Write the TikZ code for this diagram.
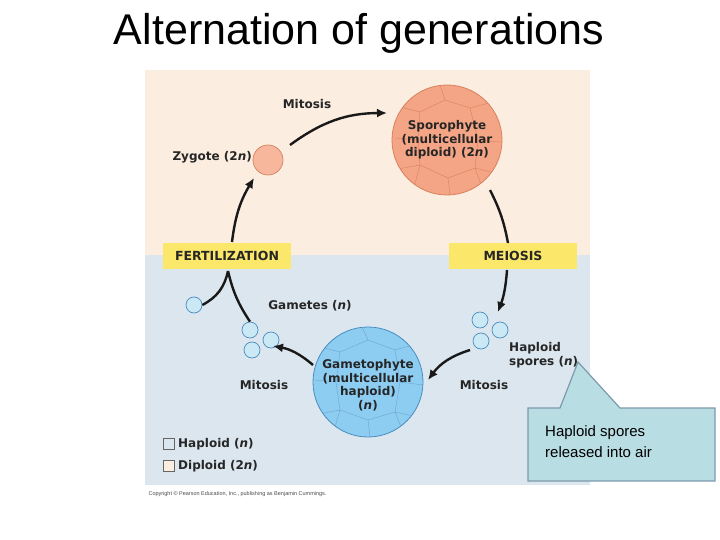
\documentclass[tikz,border=0pt]{standalone}
\usepackage{fontspec}
\setmainfont{Liberation Sans}
\newfontfamily\labfont{DejaVu Sans}
\usetikzlibrary{arrows.meta}
\definecolor{peach}{HTML}{FBEDE0}
\definecolor{pale}{HTML}{DCE6EE}
\definecolor{ybg}{HTML}{FBE86A}
\definecolor{spofill}{HTML}{F4A585}
\definecolor{spoline}{HTML}{D9805E}
\definecolor{gamfill}{HTML}{8DCDF2}
\definecolor{gamline}{HTML}{4A8CC0}
\definecolor{cellfill}{HTML}{CBE8F5}
\definecolor{callfill}{HTML}{B8DDE3}
\definecolor{callline}{HTML}{7D9AAD}
\begin{document}
\begin{tikzpicture}[x=1pt,y=-1pt,
  lab/.style={font=\labfont\fontsize{12}{13.5}\selectfont\bfseries, text=black!85, align=center, inner sep=1pt},
  ybox/.style={fill=ybg, minimum width=128pt, minimum height=26pt, font=\labfont\fontsize{12.5}{13}\selectfont\bfseries, text=black!85},
  arr/.style={line width=2.4pt, -{Latex[length=10pt,width=9pt]}, black!90},
  cell/.style={circle, draw=gamline, fill=cellfill, line width=0.7pt, minimum size=16pt, inner sep=0pt}]
\useasboundingbox (0,0) rectangle (720,540);
\fill[white] (0,0) rectangle (720,540);
\node (title) at (359,33) {\fontsize{43}{46}\selectfont Alternation of generations};
% panels
\fill[peach] (145,70) rectangle (590,255);
\fill[pale] (145,255) rectangle (590,485);
\node[anchor=west, font=\fontsize{5.5}{6}\selectfont, text=black!70] (copy) at (145,494) {Copyright \textcopyright\ Pearson Education, Inc., publishing as Benjamin Cummings.};
% sporophyte
\node[circle, draw=spoline, fill=spofill, minimum size=110pt, line width=0.8pt] (spo) at (447,140) {};
\begin{scope}
\clip (447,140) circle (55);
\draw[spoline, line width=0.4pt] (392,105)--(420,112)--(445,100)--(470,108)--(500,100) (392,170)--(420,165)--(448,178)--(475,168)--(502,175) (420,112)--(418,140)--(420,165) (470,108)--(478,140)--(475,168) (418,140)--(395,138) (478,140)--(500,142) (445,100)--(440,85) (448,178)--(450,195) (420,165)--(412,195) (475,168)--(485,195);
\end{scope}
\node[lab] at (447,140) {Sporophyte\\(multicellular\\diploid) (2\textit{n})};
% zygote
\node[circle, draw=spoline, fill=spofill!80, minimum size=30pt, line width=0.7pt, inner sep=0pt] (zyg) at (268,160) {};
\node[lab, anchor=east] (zlab) at (253,157) {Zygote (2\textit{n})};
\node[lab] (mit1) at (307,104) {Mitosis};
\draw[arr] (290,145) to[bend left=18] (387,113);
% boxes
\node[ybox] (fert) at (227,256) {FERTILIZATION};
\node[ybox] (mei) at (513,256) {MEIOSIS};
\draw[arr] (232,242) to[bend left=12] (254,178);
\draw[line width=2.4pt, black!90] (490,190) to[bend left=8] (508,243);
\draw[arr] (507,270) to[bend left=8] (498,312);
% gametophyte
\node[circle, draw=gamline, fill=gamfill, minimum size=110pt, line width=0.8pt] (gam) at (368,382) {};
\begin{scope}
\clip (368,382) circle (55);
\draw[gamline!80, line width=0.4pt] (313,345)--(340,352)--(368,340)--(395,350)--(423,342) (313,415)--(340,410)--(368,420)--(395,412)--(423,418) (340,352)--(336,382)--(340,410) (395,350)--(400,382)--(395,412) (336,382)--(315,380) (400,382)--(423,385) (368,340)--(362,327) (368,420)--(370,437) (340,410)--(332,437) (395,412)--(405,437);
\end{scope}
\node[lab] at (368,385) {Gametophyte\\(multicellular\\haploid)\\(\textit{n})};
% spores
\node[cell] (s1) at (480,320) {};
\node[cell] (s2) at (500,330) {};
\node[cell] (s3) at (481,341) {};
\node[lab, align=left, anchor=west] (hsp) at (508,355) {Haploid\\spores (\textit{n})};
\node[lab] (mit3) at (484,385) {Mitosis};
\draw[arr] (470,350) to[bend left=-18] (428,380);
% gametes
\node[cell] (g0) at (194,305) {};
\node[cell] (g1) at (250,330) {};
\node[cell] (g2) at (252,350) {};
\node[cell] (g3) at (271,340) {};
\node[lab] (glab) at (310,306) {Gametes (\textit{n})};
\node[lab] (mit2) at (264,385) {Mitosis};
\draw[arr] (313,365) to[bend left=-15] (273,346);
\coordinate (jn) at (228,271);
\draw[line width=2.4pt, black!90] (g1.north) to[bend left=10] (jn);
\draw[line width=2.4pt, black!90] (g0.east) to[bend right=25] (jn);
% legend
\node[draw=black!60, fill=pale, minimum size=11pt, inner sep=0pt] (l1) at (169,444) {};
\node[draw=black!60, fill=peach, minimum size=11pt, inner sep=0pt] (l2) at (169,466) {};
\node[lab, anchor=west] at (177,444) {Haploid (\textit{n})};
\node[lab, anchor=west] at (177,466) {Diploid (2\textit{n})};
% callout
\draw[draw=callline, fill=callfill, line width=1.2pt] (528,408) -- (560,408) -- (578,362) -- (620,408) -- (715,408) -- (715,481) -- (528,481) -- cycle;
\node[anchor=north west, align=left, font=\fontsize{15}{21}\selectfont, inner sep=0pt] (call) at (545,425) {Haploid spores\\released into air};
\end{tikzpicture}
\end{document}
